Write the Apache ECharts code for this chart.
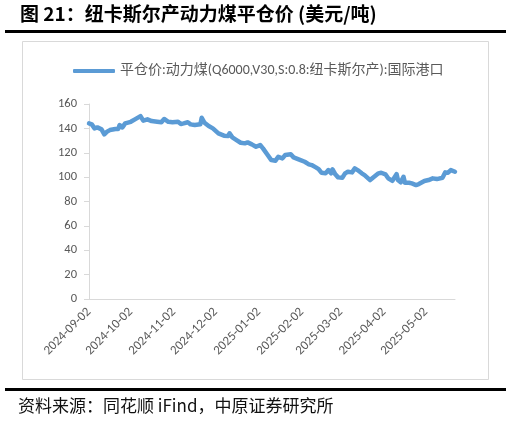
<!DOCTYPE html>
<html>
<head>
<meta charset="utf-8">
<script src="https://cdn.jsdelivr.net/npm/echarts@6/dist/echarts.min.js"></script>
<style>
html,body{margin:0;padding:0;background:#fff;}
#c{width:511px;height:422px;}
</style>
</head>
<body>
<div id="c"></div>
<script>
const dates = [
'2024-09-02','2024-09-04','2024-09-06','2024-09-08','2024-09-09','2024-09-11','2024-09-13','2024-09-15','2024-09-17','2024-09-21',
'2024-09-23','2024-09-24','2024-09-26','2024-09-28','2024-10-02','2024-10-05','2024-10-09','2024-10-11','2024-10-14','2024-10-15',
'2024-10-17','2024-10-21','2024-10-24','2024-10-26','2024-10-29','2024-11-01','2024-11-05','2024-11-07','2024-11-09','2024-11-12',
'2024-11-14','2024-11-17','2024-11-21','2024-11-22','2024-11-24','2024-11-27','2024-11-30','2024-12-04','2024-12-08','2024-12-11',
'2024-12-12','2024-12-14','2024-12-17','2024-12-20','2024-12-23','2024-12-25','2024-12-28','2024-12-31','2025-01-03','2025-01-05',
'2025-01-08','2025-01-11','2025-01-14','2025-01-16','2025-01-19','2025-01-21','2025-01-25','2025-01-27','2025-02-01','2025-02-04',
'2025-02-07','2025-02-09','2025-02-12','2025-02-14','2025-02-16','2025-02-19','2025-02-21','2025-02-23','2025-02-24','2025-02-26',
'2025-02-28','2025-03-03','2025-03-05','2025-03-07','2025-03-10','2025-03-12','2025-03-14','2025-03-17','2025-03-19','2025-03-23',
'2025-03-25','2025-03-29','2025-03-31','2025-04-03','2025-04-05','2025-04-08','2025-04-09','2025-04-11','2025-04-12','2025-04-14',
'2025-04-16','2025-04-17','2025-04-20','2025-04-22','2025-04-25','2025-04-27','2025-05-01','2025-05-04','2025-05-07','2025-05-10',
'2025-05-14','2025-05-16','2025-05-18','2025-05-20','2025-05-23'
];
const prices = [
144.1,143.3,140.0,140.8,141.3,139.2,135.1,137.3,138.6,139.5,
139.5,142.7,140.8,144.1,145.4,147.4,150.1,146.3,147.4,148.5,
146.0,145.4,145.0,147.7,145.4,145.0,145.4,143.6,144.1,145.0,
143.3,142.7,143.3,148.7,144.6,141.9,140.0,135.9,134.0,133.7,
135.9,132.6,130.4,128.2,127.7,128.5,126.9,124.9,126.3,123.6,
118.7,114.0,113.5,116.7,115.4,118.1,118.7,116.2,114.0,112.6,
110.5,109.9,108.0,106.6,103.6,103.1,105.8,103.1,106.4,102.3,
99.8,99.5,103.1,104.4,103.9,107.2,105.8,103.1,101.7,97.6,
99.5,103.1,103.6,102.3,99.0,97.0,97.6,102.5,97.6,95.7,
100.3,95.4,95.4,94.9,93.5,94.3,96.8,97.6,99.0,98.4,
99.5,103.9,103.6,105.8,104.4
];
const xTickLabels = ['2024-09-02','2024-10-02','2024-11-02','2024-12-02','2025-01-02','2025-02-02','2025-03-02','2025-04-02','2025-05-02'];
const xStart = '2024-09-02';
const xEnd = '2025-05-23';
const yTicks = [0,20,40,60,80,100,120,140,160];
const seriesName = '平仓价:动力煤(Q6000,V30,S:0.8:纽卡斯尔产):国际港口';
const titleText = '图 21：纽卡斯尔产动力煤平仓价 (美元/吨)';
const sourceText = '资料来源：同花顺 iFind，中原证券研究所';

// day number since xStart (axis works in days)
function dayNum(s){const p=s.split('-').map(Number);return Math.round(Date.UTC(p[0],p[1]-1,p[2])/86400000);}
const d0 = dayNum(xStart);
function dayOf(s){return dayNum(s)-d0;}
const labelByDay = {};
xTickLabels.forEach(s=>{labelByDay[dayOf(s)]=s;});

const chart = echarts.init(document.getElementById('c'), null, {renderer:'canvas'});
const FONT = 'Calibri, "Liberation Sans", "Noto Sans CJK SC", sans-serif';
chart.setOption({
  backgroundColor:'#fff',
  animation:false,
  textStyle:{fontFamily:FONT},
  grid:{left:89,right:56,top:104,bottom:123,containLabel:false},
  legend:{
    show:true,left:68,top:59,itemWidth:42,itemHeight:4,icon:'roundRect',
    textStyle:{color:'#595959',fontSize:14,fontFamily:FONT},
    data:[seriesName]
  },
  xAxis:{
    type:'value',min:0,max:dayOf(xEnd),
    axisLine:{show:true,onZero:false,lineStyle:{color:'#d9d9d9',width:1}},
    axisTick:{show:false},
    splitLine:{show:false},
    axisLabel:{
      customValues:xTickLabels.map(dayOf),
      hideOverlap:false,
      formatter:function(v){return labelByDay[Math.round(v)]||'';},
      rotate:45,color:'#595959',fontSize:13,margin:11,fontFamily:FONT
    }
  },
  yAxis:{
    type:'value',min:yTicks[0],max:yTicks[yTicks.length-1],interval:20,
    axisLine:{show:true,lineStyle:{color:'#d9d9d9',width:1}},
    axisTick:{show:true,length:5,lineStyle:{color:'#d9d9d9'}},
    splitLine:{show:false},
    axisLabel:{color:'#595959',fontSize:12.5,margin:12,fontFamily:FONT}
  },
  series:[{
    name:seriesName,type:'line',
    data:dates.map((d,i)=>[dayOf(d),prices[i]]),
    showSymbol:false,symbol:'none',
    itemStyle:{color:'#5B9BD5'},
    lineStyle:{color:'#5B9BD5',width:4.5,cap:'round',join:'round'}
  }],
  graphic:[
    {type:'text',left:20,top:4,style:{text:titleText,fill:'#000',font:'bold 19px "Noto Sans CJK SC", sans-serif'}},
    {type:'rect',shape:{x:5,y:30,width:501,height:3},style:{fill:'#000'}},
    {type:'rect',shape:{x:22.5,y:41.5,width:466,height:338},style:{fill:'none',stroke:'#d9d9d9',lineWidth:1},z:-1},
    {type:'rect',shape:{x:5,y:388,width:501,height:3},style:{fill:'#000'}},
    {type:'text',left:18,top:397,style:{text:sourceText,fill:'#111',font:'17px "Noto Sans CJK SC", sans-serif'}}
  ]
});
</script>
</body>
</html>
